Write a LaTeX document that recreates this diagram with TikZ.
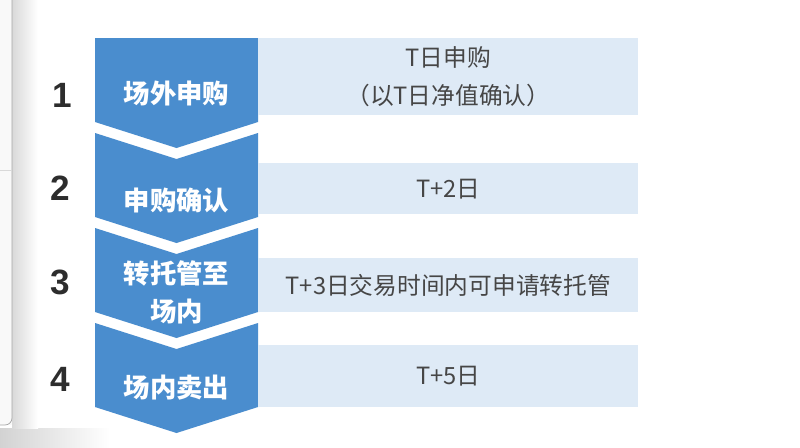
\documentclass[tikz,border=0pt]{standalone}
\usepackage{fontspec}
\newfontfamily\cjk{Noto Sans CJK SC}
\newfontfamily\numfont{Liberation Sans}
\definecolor{StepBlue}{RGB}{74, 141, 206}
\definecolor{NoteBlue}{RGB}{222, 234, 246}
\definecolor{NoteGray}{RGB}{70, 70, 70}
\definecolor{NumGray}{RGB}{45, 45, 45}

\begin{document}
\begin{tikzpicture}[x=0.02cm, y=-0.02cm,
  steplabel/.style={text=white, align=center, font=\cjk\bfseries\fontsize{15}{21.5}\selectfont},
  notebox/.style={fill=NoteBlue, anchor=north west, minimum width=7.6cm, inner sep=0pt, align=center, text=NoteGray, font=\cjk\fontsize{13.5}{21.5}\selectfont},
  stepnum/.style={text=NumGray, font=\numfont\bfseries\fontsize{20}{24}\selectfont}]
\useasboundingbox (0,0) rectangle (800,447);
\fill[white] (0,0) rectangle (800,447);
\shade[left color=gray!35, right color=white] (0,428) rectangle (110,447);
\fill[gray!5] (0,0) rectangle (12,425);
\shade[left color=gray!30, right color=white] (12,0) rectangle (38,428);
\draw[gray!70, rounded corners=4] (12,0) -- (12,425) -- (0,425);
\draw[gray!30] (0,170) -- (12,170);
\fill[StepBlue] (95,38) -- (258,38) -- (258,122) -- (176.5,148) -- (95,122) -- cycle;
\foreach \t in {133,228,323}
  \fill[StepBlue] (95,\t) -- (176.5,\t+26) -- (258,\t) -- (258,\t+84) -- (176.5,\t+110) -- (95,\t+84) -- cycle;
\node[notebox, minimum height=1.54cm] (note1) at (258,38) {T日申购\\（以T日净值确认）};
\node[notebox, minimum height=1.02cm] (note2) at (258,163) {T+2日};
\node[notebox, minimum height=1.08cm] (note3) at (258,258) {T+3日交易时间内可申请转托管};
\node[notebox, minimum height=1.24cm] (note4) at (258,345) {T+5日};
\node[steplabel] (step1) at (176.5,93.5) {场外申购};
\node[steplabel] (step2) at (176.5,200) {申购确认};
\node[steplabel] (step3) at (176.5,292) {转托管至\\场内};
\node[steplabel] (step4) at (176.5,388) {场内卖出};
\node[stepnum] (num1) at (62,95) {1};
\node[stepnum] (num2) at (60,188) {2};
\node[stepnum] (num3) at (60,282) {3};
\node[stepnum] (num4) at (60,379) {4};
\end{tikzpicture}
\end{document}
